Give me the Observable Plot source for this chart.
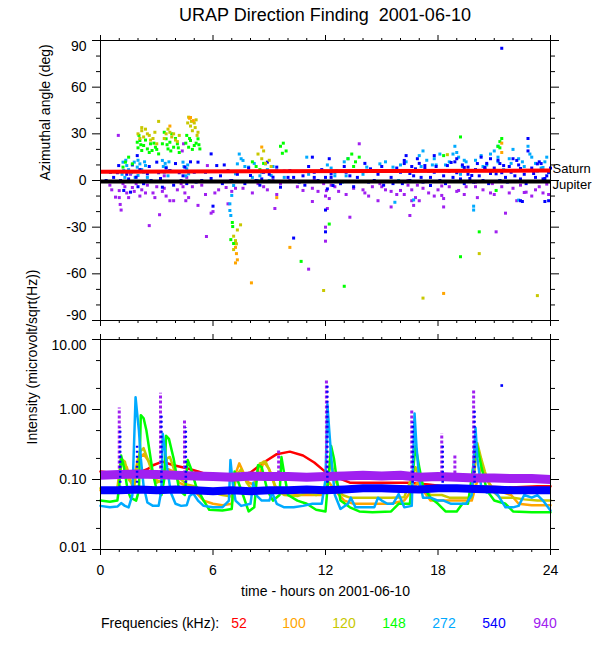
<!DOCTYPE html>
<html><head><meta charset="utf-8">
<script src="https://cdn.jsdelivr.net/npm/d3@7"></script>
<script src="https://cdn.jsdelivr.net/npm/@observablehq/plot@0.6"></script>
<style>
body{margin:0;background:#fff;font-family:"Liberation Sans",Arial,sans-serif;color:#000;}
#wrap{position:relative;width:600px;height:650px;}
#title{position:absolute;left:100px;width:450px;top:0;height:30px;line-height:30px;text-align:center;font-size:18px;white-space:pre;}
#top{position:absolute;left:0;top:30px;}
#bot{position:absolute;left:0;top:330px;}
#legend{position:absolute;left:0;top:612px;height:22px;width:600px;font-size:14px;}
#legend span{position:absolute;top:0;line-height:22px;white-space:pre;}
</style></head><body>
<div id="wrap">
<div id="title">URAP Direction Finding  2001-06-10</div>
<div id="top"></div>
<div id="bot"></div>
<div id="legend"></div>
</div>
<script>
// ---------- labels / ticks ----------
const freqs = ["52","100","120","148","272","540","940"];
const freqColors = ["#ff0000","#ffa500","#c8c800","#00ff00","#00aaff","#0000ff","#a020f0"];
const hourMajor = [0,6,12,18,24];
const hourMinor = [1,2,3,4,5,7,8,9,10,11,13,14,15,16,17,19,20,21,22,23];
const angMajor = [-90,-60,-30,0,30,60,90];
const angMinor = [-80,-70,-50,-40,-20,-10,10,20,40,50,70,80];
const intMajor = [0.01,0.1,1,10];
const intMinor = [0.02,0.05,0.2,0.5,2,5];

// ---------- planets (deg) ----------
const saturn = [[0,5.6],[24,6.4]];
const jupiter = [[0,-0.7],[24,-0.7]];

// ---------- azimuth scatter [hour, deg] ----------
const ang940 = [[0.5,-3],[0.6,-6],[0.8,-10.7],[0.95,29],[1.0,-6.5],[1.0,-11],[1.05,-15.4],[1.1,-19],[1.2,-2],[1.3,-4],[1.4,-8],[1.5,-11],[1.6,4],[1.7,-4.5],[1.8,-7],[1.9,-2],[2.1,-10],[2.2,-6],[2.3,-2],[2.4,-8],[2.5,-3],[2.6,-29],[2.8,-8],[2.9,-11],[3.0,-4],[3.15,-22],[3.3,-7],[3.4,3],[3.4,-5],[3.5,-10],[3.7,-13],[3.9,-13],[4.1,-6],[4.3,-2],[4.36,19],[4.4,-4],[4.43,23.6],[4.5,-8],[4.55,-13],[4.6,2],[4.7,-11],[4.9,-4],[5.2,-16],[5.4,-3],[5.6,-9],[5.65,-36],[5.7,9.6],[5.9,-21],[6.0,-20],[6.1,-8],[6.3,-6],[6.7,-4.5],[6.8,-15],[6.93,0],[7.0,-7],[7.2,-5],[7.6,-5],[8.1,-8],[8.4,-2],[8.7,-4],[8.9,-6],[9.2,0],[9.3,-18],[9.4,-9],[9.6,-2],[10.1,0],[10.5,-4],[10.8,-6.4],[11.1,-57],[11.3,-13.5],[11.3,-5],[11.4,0],[11.6,-7],[11.9,-2],[12.0,-10],[12.0,-30],[12.0,-39],[12.05,-6.5],[12.1,-18],[12.2,-11.6],[12.3,-3],[12.5,-4],[12.7,-7],[12.8,-2],[13.1,-9],[13.3,-23.6],[13.5,-5],[13.8,23.6],[14.0,-6],[14.1,-8],[14.3,-10],[14.5,-4],[14.8,-13],[14.9,-2],[15.0,-4],[15.2,-6],[15.5,-17],[15.5,-7],[15.8,-9],[16.0,-6.4],[16.2,-9],[16.4,0],[16.4,-3],[16.5,-22.5],[16.6,-13],[16.6,-6],[16.7,-16],[16.8,-11],[16.9,-3],[17.0,-13],[17.2,-5],[17.5,-8],[17.8,-10],[18.0,-6],[18.2,-3.5],[18.2,-9.6],[18.3,-17],[18.3,-11.6],[18.6,-4],[19.0,-7],[19.1,-6.4],[19.4,-9],[19.5,-4],[20.0,-1],[20.0,-4],[20.1,-11],[20.4,-6],[20.8,-8],[20.9,-2],[21.0,-9],[21.1,-33],[21.4,-4],[21.6,-21],[21.8,-8],[22.0,-5],[22.2,-13],[22.4,-3],[22.6,-7.7],[22.7,-7.5],[23.0,-10],[23.2,-6],[23.4,-4],[23.6,-8],[23.8,-2.3],[23.9,-9]];
const ang540 = [[0.3,0],[0.53,5.3],[0.7,2],[0.9,5],[0.97,9.6],[1.07,0],[1.24,-6.4],[1.4,4],[1.5,1],[1.6,-7.5],[1.7,10],[1.96,16],[1.9,2.1],[2.0,-4],[2.1,7],[2.3,-2],[2.5,4.3],[2.6,9],[2.7,0],[3.0,11.8],[3.1,5],[3.2,1.3],[3.3,-4.3],[3.5,8],[3.7,6.4],[3.9,-3],[4.0,10.9],[4.2,5],[4.3,0],[4.4,3],[4.5,8.6],[4.6,-2],[4.8,12],[5.0,5.3],[5.1,-1],[5.2,11.8],[5.4,0],[5.6,5.3],[5.9,17.1],[5.9,1.3],[6.0,-16.5],[6.2,9.6],[6.4,3],[6.5,-2],[6.6,10],[6.8,6.4],[7.0,0],[7.3,4],[7.7,-2],[7.9,8],[8.0,3.2],[8.3,0],[8.5,-3],[8.6,1],[8.7,5.3],[8.9,11.8],[9.0,4],[9.2,2.1],[9.4,8.6],[9.6,-4.3],[9.8,6],[10.0,2],[10.1,6.4],[10.3,2],[10.3,-37],[10.6,-1],[10.8,3],[10.9,-3],[11.1,9],[11.3,15],[11.4,5.3],[11.4,2],[11.6,0],[11.8,7],[12.0,2],[12.0,-19],[12.0,-33],[12.1,-5.4],[12.2,14],[12.3,4.3],[12.3,2],[12.4,-3.2],[12.6,6],[12.8,-2],[13.0,9],[13.1,5.3],[13.3,3],[13.5,-4],[13.7,2],[13.9,6],[14.1,11],[14.3,-1],[14.4,7.5],[14.6,0],[14.8,4],[15.0,9],[15.1,-3],[15.3,6.4],[15.5,2],[15.6,-2],[15.8,8],[16.0,5.3],[16.1,-2],[16.2,12.9],[16.2,10.9],[16.3,16],[16.5,0],[16.5,4.5],[16.6,9],[16.7,3],[16.8,7.5],[16.9,14],[17.0,11],[17.1,2],[17.2,-1],[17.3,9.6],[17.3,7.7],[17.5,6],[17.6,-3.2],[17.6,2],[17.8,5.3],[17.8,16],[17.9,9],[18.1,0],[18.3,3],[18.4,-2],[18.5,9.6],[18.6,6],[18.7,11.6],[18.8,2],[18.9,12],[19.0,14],[19.0,6.4],[19.0,5],[19.2,1],[19.3,10],[19.4,-2],[19.4,8.4],[19.6,8.6],[19.6,4],[19.7,1.3],[19.8,3.2],[19.9,-1],[20.0,7],[20.1,10.9],[20.2,3],[20.3,15],[20.4,0],[20.5,7.5],[20.5,8.4],[20.6,11],[20.7,-2],[20.8,14],[20.8,4.5],[21.0,8],[21.1,4.3],[21.2,13],[21.3,0],[21.3,10.9],[21.4,85],[21.4,5],[21.5,9.6],[21.6,2],[21.7,-1],[21.8,9],[21.9,5.3],[22.0,14],[22.1,3],[22.2,12.9],[22.3,10],[22.4,1],[22.4,7.7],[22.4,-13],[22.5,-13.5],[22.6,4],[22.7,-2],[22.8,27],[22.8,19],[22.9,6.4],[23.0,8],[23.1,4.5],[23.2,2],[23.3,10.7],[23.4,12],[23.5,10.9],[23.6,1],[23.7,1.3],[23.7,-13.5],[23.8,3],[23.9,5.3],[23.9,-13],[24.0,8]];
const ang272 = [[1.15,4],[1.2,11.8],[1.24,6.4],[1.3,2],[1.35,13],[1.4,9.6],[1.5,7],[1.65,5],[1.8,11.8],[1.85,2],[1.96,8.6],[2.0,3.2],[2.0,13],[2.1,10.7],[2.2,7],[2.3,5.3],[2.35,12],[2.4,9.6],[2.5,2],[3.3,12.9],[3.35,9],[3.4,5.3],[3.45,11],[3.5,8.6],[3.6,3],[3.65,12],[3.7,6.4],[4.4,11.8],[4.45,9],[4.55,3],[4.6,7.5],[4.65,10],[4.7,4.3],[6.9,-15],[6.9,-19.3],[6.95,-22.5],[7.0,-9.6],[7.1,-3.2],[7.2,4.3],[7.3,10.7],[7.4,17],[7.5,14],[7.6,12.9],[7.7,9],[7.9,8.6],[8.1,2],[8.2,11],[8.4,0],[8.5,3],[8.6,5.3],[8.8,10.7],[8.9,7],[9.0,0],[9.1,3.2],[9.2,9],[9.4,6.4],[9.8,2],[11.0,15],[11.1,4],[11.7,6],[12.1,10],[12.3,8],[12.5,5],[12.5,3],[12.9,-1],[13.0,12],[13.1,3],[13.2,14],[14.0,4],[14.2,8.6],[14.9,10.7],[15.2,12],[15.6,8.6],[15.7,-14],[15.9,0],[16.0,10],[16.3,12],[16.6,6],[16.7,-12.5],[17.0,16],[17.1,9],[17.2,19],[17.4,13],[17.5,6],[17.7,10],[17.8,14],[17.9,10],[18.1,17],[18.4,10],[18.6,12],[18.8,17],[18.9,22],[19.0,18],[19.1,15],[19.2,4],[19.3,9],[19.4,13],[19.5,12],[19.6,6],[19.9,-16.5],[19.9,-19],[20.0,13],[20.3,16],[20.4,9],[20.6,10],[20.8,17],[20.9,6],[21.0,19],[21.2,12],[21.2,15],[21.2,22],[21.3,0],[21.5,7],[21.8,14],[21.9,11],[22.0,20],[22.3,14],[22.3,-12.6],[22.5,12],[22.6,9],[22.8,22],[22.9,17],[23.0,15],[23.2,11],[23.3,6],[23.5,8],[23.6,8.4],[23.7,12],[23.8,15],[23.9,5]];
const ang148 = [[1.2,8.6],[1.33,11.8],[1.5,15],[1.7,10.7],[1.96,24.6],[2.0,21],[2.05,29],[2.1,25.7],[2.15,23],[2.2,19.3],[2.3,22.5],[2.4,26],[2.5,20.3],[2.6,18],[2.67,23.6],[2.75,19.3],[2.85,24],[2.93,21.4],[3.0,20],[3.1,17.1],[3.3,23.6],[3.4,31],[3.5,26.8],[3.55,23],[3.6,20.3],[3.7,24.6],[3.75,19],[3.8,30],[3.9,21.4],[4.0,27],[4.1,23.6],[4.15,21],[4.2,18],[4.55,24],[4.6,29],[4.7,21.4],[4.75,27],[4.8,25.7],[4.9,20],[5.0,22.5],[5.1,24],[5.2,26.8],[5.25,23],[5.3,20.3],[6.95,-38],[7.03,-27],[7.05,-29.6],[7.1,-40.5],[7.2,-39],[8.1,12],[8.3,9],[8.5,7],[8.7,11],[8.9,6],[9.6,22],[9.7,17.5],[9.75,24],[9.9,19],[10.7,-52],[12.2,-28],[13.0,-68],[13.2,14],[13.4,17],[13.5,9],[13.6,12],[13.8,15],[18.3,16],[19.2,28],[19.2,-49],[20.2,-33],[21.1,-6.4],[21.2,22],[21.3,25],[21.3,21],[21.4,27]];
const ang120 = [[2.0,30],[2.1,27],[2.2,32],[2.2,34],[2.3,28],[2.4,33],[2.5,30],[2.6,29],[2.67,26],[2.8,27],[2.9,31],[3.0,23.6],[3.1,38],[3.4,27],[3.5,30],[3.6,33],[3.7,31],[3.8,28],[3.9,30],[4.0,26],[4.1,25],[4.2,29],[4.65,37],[4.7,40.7],[4.8,35],[4.85,38],[4.9,32],[5.0,37],[5.05,34],[5.1,39],[5.15,29],[5.2,31],[7.1,-35.8],[7.2,-38.7],[7.25,-40.7],[7.3,-31.8],[7.1,-44.4],[7.47,-28.5],[8.4,17],[8.6,14],[8.7,19],[8.8,11],[9.0,13],[9.1,9],[11.9,-70.7],[17.2,-75.6],[18.5,16.6],[20.2,-47],[23.3,-74]];
const ang100 = [[3.7,35],[4.75,40],[4.8,40.5],[4.95,38.5],[7.2,-43],[7.25,-47],[7.3,-51],[7.2,-53],[8.05,-65.8],[8.6,21.5],[9.4,-11],[10.1,-43],[18.3,-72.6],[21.4,24],[21.4,18]];

// ---------- intensity lines [hour, microvolt/sqrt(Hz)] ----------
const int52 = [[0,0.13],[0.5,0.125],[1.0,0.12],[1.5,0.12],[2.0,0.125],[2.5,0.14],[2.8,0.16],[3.3,0.18],[3.9,0.16],[4.6,0.145],[5.2,0.13],[5.8,0.115],[6.5,0.11],[7.2,0.11],[8.0,0.126],[8.7,0.175],[9.4,0.23],[10.1,0.25],[10.8,0.22],[11.4,0.175],[11.9,0.135],[12.5,0.11],[13.3,0.09],[14.5,0.09],[15.5,0.09],[16.4,0.09],[17.5,0.085],[18.8,0.077],[19.9,0.08],[21.0,0.078],[21.9,0.077],[23.3,0.08],[24,0.08]];
const int100 = [[0,0.07],[0.9,0.07],[1.15,0.19],[1.4,0.15],[1.7,0.08],[2.0,0.2],[2.3,0.23],[2.6,0.18],[2.9,0.1],[3.3,0.09],[3.6,0.14],[3.9,0.13],[4.2,0.09],[4.6,0.08],[5.0,0.07],[5.5,0.05],[6.0,0.045],[6.5,0.043],[7.0,0.045],[7.2,0.12],[7.4,0.17],[7.6,0.13],[7.9,0.09],[8.2,0.085],[8.5,0.12],[8.7,0.18],[9.0,0.14],[9.3,0.08],[9.7,0.07],[10.1,0.065],[10.6,0.06],[11.2,0.06],[11.8,0.06],[12.2,0.09],[12.5,0.07],[13.0,0.05],[13.5,0.045],[14.5,0.045],[15.5,0.045],[16.2,0.05],[16.9,0.09],[17.2,0.07],[17.6,0.05],[18.2,0.05],[19.0,0.05],[19.8,0.05],[20.3,0.15],[20.6,0.1],[21.0,0.07],[21.5,0.065],[21.9,0.06],[22.3,0.045],[23.0,0.043],[24,0.043]];
const int120 = [[0,0.075],[0.5,0.072],[0.9,0.075],[1.1,0.2],[1.3,0.18],[1.5,0.1],[1.8,0.08],[2.1,0.25],[2.3,0.28],[2.5,0.2],[2.75,0.13],[3.0,0.09],[3.3,0.1],[3.55,0.2],[3.7,0.21],[4.0,0.12],[4.3,0.1],[4.6,0.085],[5.0,0.08],[5.5,0.07],[6.0,0.065],[6.5,0.06],[7.0,0.057],[7.3,0.12],[7.5,0.14],[7.8,0.09],[8.1,0.07],[8.5,0.17],[8.8,0.18],[9.1,0.12],[9.4,0.07],[9.8,0.06],[10.5,0.058],[11.0,0.065],[11.5,0.06],[12.0,0.07],[12.3,0.18],[12.5,0.1],[12.9,0.06],[13.3,0.055],[14.5,0.055],[15.5,0.055],[16.2,0.056],[16.8,0.15],[17.0,0.1],[17.3,0.07],[17.6,0.06],[18.2,0.06],[18.6,0.055],[19.2,0.055],[19.8,0.055],[20.1,0.33],[20.3,0.2],[20.5,0.13],[20.7,0.09],[21.0,0.065],[21.3,0.055],[22.0,0.055],[22.6,0.052],[23.3,0.05],[24,0.05]];
const int148 = [[0,0.05],[0.5,0.048],[0.9,0.05],[1.0,0.08],[1.1,0.22],[1.25,0.15],[1.45,0.07],[1.6,0.055],[1.9,0.05],[2.05,0.07],[2.15,0.83],[2.3,0.75],[2.45,0.5],[2.6,0.27],[2.8,0.12],[3.0,0.07],[3.25,0.06],[3.4,0.1],[3.5,0.42],[3.65,0.38],[3.9,0.2],[4.2,0.07],[4.5,0.06],[4.65,0.19],[4.8,0.15],[5.1,0.08],[5.5,0.05],[5.8,0.037],[6.5,0.036],[7.0,0.038],[7.15,0.13],[7.3,0.1],[7.6,0.06],[7.9,0.035],[8.2,0.04],[8.4,0.16],[8.6,0.15],[8.9,0.07],[9.2,0.05],[9.55,0.06],[9.65,0.21],[9.8,0.12],[10.0,0.06],[10.5,0.05],[11.0,0.045],[11.5,0.037],[12.0,0.035],[12.3,0.3],[12.45,0.2],[12.6,0.1],[12.8,0.05],[13.3,0.04],[13.8,0.035],[14.5,0.034],[15.5,0.035],[15.9,0.045],[16.5,0.045],[16.8,0.3],[17.0,0.15],[17.2,0.08],[17.6,0.055],[18.0,0.045],[18.4,0.035],[19.0,0.035],[19.3,0.045],[19.6,0.045],[20.05,0.33],[20.3,0.16],[20.6,0.07],[21.0,0.05],[21.6,0.045],[22.0,0.035],[23.0,0.034],[24,0.034]];
const int272 = [[0,0.042],[0.5,0.04],[0.9,0.041],[1.1,0.046],[1.3,0.042],[1.5,0.04],[1.7,0.06],[1.87,1.5],[1.95,0.9],[2.05,0.5],[2.15,0.2],[2.3,0.08],[2.5,0.047],[2.8,0.042],[3.1,0.042],[3.25,0.07],[3.32,0.45],[3.45,0.25],[3.55,0.15],[3.75,0.065],[4.0,0.045],[4.3,0.042],[4.6,0.043],[4.75,0.058],[4.95,0.063],[5.2,0.05],[5.5,0.042],[6.0,0.04],[6.5,0.04],[6.85,0.05],[6.93,0.19],[7.05,0.09],[7.2,0.05],[7.5,0.042],[8.0,0.045],[8.15,0.09],[8.3,0.06],[8.6,0.05],[9.0,0.05],[9.15,0.065],[9.4,0.045],[9.8,0.04],[10.3,0.04],[10.8,0.042],[11.3,0.045],[11.8,0.045],[12.0,0.1],[12.1,1.2],[12.2,0.5],[12.35,0.15],[12.5,0.06],[12.8,0.038],[13.2,0.045],[13.35,0.055],[13.6,0.04],[14.2,0.04],[14.6,0.04],[14.8,0.055],[15.0,0.05],[15.3,0.045],[15.6,0.045],[15.9,0.062],[16.2,0.04],[16.6,0.042],[16.75,0.88],[16.85,0.3],[17.0,0.1],[17.2,0.055],[17.6,0.055],[18.0,0.05],[18.3,0.05],[18.7,0.045],[19.2,0.045],[19.5,0.045],[19.8,0.06],[20.0,0.55],[20.1,0.2],[20.3,0.08],[20.6,0.065],[20.9,0.07],[21.2,0.06],[21.6,0.04],[22.0,0.04],[22.3,0.042],[22.6,0.06],[23.0,0.055],[23.3,0.06],[23.6,0.05],[24,0.036]];
const int540 = [[0,0.07],[1,0.07],[2,0.072],[3,0.07],[4,0.072],[5,0.07],[6,0.068],[7,0.07],[8,0.068],[9,0.07],[10,0.07],[11,0.072],[12,0.07],[13,0.072],[14,0.075],[15,0.075],[16,0.073],[17,0.072],[18,0.075],[19,0.075],[20,0.073],[21,0.072],[22,0.07],[23,0.07],[24,0.07]];
const int940 = [[0,0.115],[1,0.118],[2,0.12],[3,0.118],[4,0.115],[5,0.112],[6,0.11],[7,0.108],[8,0.112],[9,0.11],[10,0.11],[11,0.108],[12,0.11],[13,0.112],[14,0.115],[15,0.112],[16,0.115],[17,0.108],[18,0.11],[19,0.108],[20,0.105],[21,0.105],[22,0.103],[23,0.103],[24,0.1]];
// bursts: [hour, base, peak]
const spikes540 = [[1.0,0.075,0.55],[1.9,0.075,0.3],[3.2,0.075,0.88],[4.5,0.075,0.55],[12.05,0.075,2.2],[16.6,0.075,0.66],[18.2,0.075,0.3],[19.9,0.075,0.95]];
const spikes940 = [[1.0,0.12,1.05],[3.2,0.12,1.7],[4.48,0.12,0.7],[9.5,0.12,0.27],[12.05,0.12,2.7],[16.6,0.12,0.97],[18.2,0.12,0.45],[18.9,0.12,0.22],[19.9,0.12,1.9]];
const stray540 = [[21.4,2.2]];

const angSeries = [ang940, ang272, ang540, ang148, ang120, ang100];
const angColors = ["#a020f0","#00aaff","#0000ff","#00ff00","#c8c800","#ffa500"];
const lineSeries = [int52, int100, int120, int148, int272];
const lineColors = ["#ff0000","#ffa500","#c8c800","#00ff00","#00aaff"];

const font = {fontFamily:"'Liberation Sans', Arial, sans-serif", fontSize:"14px", background:"white", color:"black", overflow:"visible"};
const blank = () => "";

function frameAxes(yMajor, yMinor) {
  return [
    Plot.frame({stroke:"black"}),
    Plot.axisX({anchor:"top", ticks:hourMajor, tickSize:6, tickFormat:blank, label:null}),
    Plot.axisX({anchor:"top", ticks:hourMinor, tickSize:3, tickFormat:blank, label:null}),
    Plot.axisX({anchor:"bottom", ticks:hourMajor, tickSize:6, tickFormat:blank, label:null}),
    Plot.axisX({anchor:"bottom", ticks:hourMinor, tickSize:3, tickFormat:blank, label:null}),
    Plot.axisY({anchor:"left", ticks:yMajor, tickSize:8, tickFormat:blank, label:null}),
    Plot.axisY({anchor:"left", ticks:yMinor, tickSize:4, tickFormat:blank, label:null}),
    Plot.axisY({anchor:"right", ticks:yMajor, tickSize:8, tickFormat:blank, label:null}),
    Plot.axisY({anchor:"right", ticks:yMinor, tickSize:4, tickFormat:blank, label:null})
  ];
}

// ---------- top panel ----------
const topMarks = [];
angSeries.forEach((s,i) => topMarks.push(Plot.dot(s, {x:d=>d[0], y:d=>d[1], symbol:"square", r:1.7, fill:angColors[i], stroke:"none"})));
topMarks.push(Plot.line(saturn, {x:d=>d[0], y:d=>d[1], stroke:"#ff0000", strokeWidth:4, strokeLinecap:"butt"}));
topMarks.push(Plot.line(jupiter, {x:d=>d[0], y:d=>d[1], stroke:"#000000", strokeWidth:4, strokeLinecap:"butt"}));
topMarks.push(Plot.text([["Saturn", saturn[1][1]]], {x:24, y:d=>d[1], text:d=>d[0], dx:2, dy:-2, textAnchor:"start", fill:"black", fontSize:13}));
topMarks.push(Plot.text([["Jupiter", jupiter[1][1]]], {x:24, y:d=>d[1], text:d=>d[0], dx:2, dy:3, textAnchor:"start", fill:"black", fontSize:13}));
topMarks.push(...frameAxes(angMajor, angMinor));
topMarks.push(Plot.text(angMajor.filter(v => Math.abs(v) < 90), {y:d=>d, text:d=>String(d), frameAnchor:"left", dx:-14, textAnchor:"end"}));
topMarks.push(Plot.text([90], {y:d=>d, text:d=>String(d), frameAnchor:"left", dx:-14, dy:6, textAnchor:"end"}));
topMarks.push(Plot.text([-90], {y:d=>d, text:d=>String(d), frameAnchor:"left", dx:-14, dy:-5, textAnchor:"end"}));
topMarks.push(Plot.text(["Azimuthal angle (deg)"], {frameAnchor:"left", rotate:-90, dx:-55, text:d=>d}));

const topPlot = Plot.plot({
  width:600, height:300, marginLeft:100, marginRight:50, marginTop:10, marginBottom:10,
  x:{domain:[0,24], axis:null}, y:{domain:[-90,90], axis:null},
  style:font, marks:topMarks
});
document.getElementById("top").appendChild(topPlot);

// ---------- bottom panel ----------
const botMarks = [];
lineSeries.forEach((s,i) => botMarks.push(Plot.line(s, {x:d=>d[0], y:d=>d[1], stroke:lineColors[i], strokeWidth:2.5})));
botMarks.push(Plot.line(int540, {x:d=>d[0], y:d=>d[1], stroke:"#0000ff", strokeWidth:8, strokeLinecap:"butt"}));
botMarks.push(Plot.line(int940, {x:d=>d[0], y:d=>d[1], stroke:"#a020f0", strokeWidth:9, strokeLinecap:"butt"}));
botMarks.push(Plot.ruleX(spikes940, {x:d=>d[0], y1:d=>d[1], y2:d=>d[2], stroke:"#a020f0", strokeWidth:3, strokeDasharray:"3,2"}));
botMarks.push(Plot.ruleX(spikes540, {x:d=>d[0]+0.05, y1:d=>d[1], y2:d=>d[2], stroke:"#0000ff", strokeWidth:2.5, strokeDasharray:"2,3"}));
botMarks.push(Plot.dot(stray540, {x:d=>d[0], y:d=>d[1], symbol:"square", r:1.5, fill:"#0000ff", stroke:"none"}));
botMarks.push(...frameAxes(intMajor, intMinor));
botMarks.push(Plot.text([[1,"1.00"],[0.1,"0.10"]], {y:d=>d[0], text:d=>d[1], frameAnchor:"left", dx:-14, textAnchor:"end"}));
botMarks.push(Plot.text([[10,"10.00"]], {y:d=>d[0], text:d=>d[1], frameAnchor:"left", dx:-14, dy:6, textAnchor:"end"}));
botMarks.push(Plot.text([[0.01,"0.01"]], {y:d=>d[0], text:d=>d[1], frameAnchor:"left", dx:-14, dy:-2, textAnchor:"end"}));
botMarks.push(Plot.text(["Intensity (microvolt/sqrt(Hz))"], {frameAnchor:"left", rotate:-90, dx:-68, text:d=>d}));
botMarks.push(Plot.text(hourMajor, {x:d=>d, text:d=>String(d), frameAnchor:"bottom", dy:25}));
botMarks.push(Plot.text(["time - hours on 2001-06-10"], {frameAnchor:"bottom", dy:46, text:d=>d}));

const botPlot = Plot.plot({
  width:600, height:270, marginLeft:100, marginRight:50, marginTop:9, marginBottom:51,
  x:{domain:[0,24], axis:null}, y:{type:"log", domain:[0.01,10], axis:null},
  style:font, marks:botMarks
});
document.getElementById("bot").appendChild(botPlot);

// ---------- legend ----------
const legend = document.getElementById("legend");
const lab = document.createElement("span");
lab.textContent = "Frequencies (kHz):";
lab.style.left = "101px";
legend.appendChild(lab);
const legendX = [239,294,344,394,444,494,545];
freqs.forEach((f,i) => {
  const s = document.createElement("span");
  s.textContent = f;
  s.style.left = legendX[i] + "px";
  s.style.transform = "translateX(-50%)";
  s.style.color = freqColors[i];
  legend.appendChild(s);
});
</script>
</body></html>
